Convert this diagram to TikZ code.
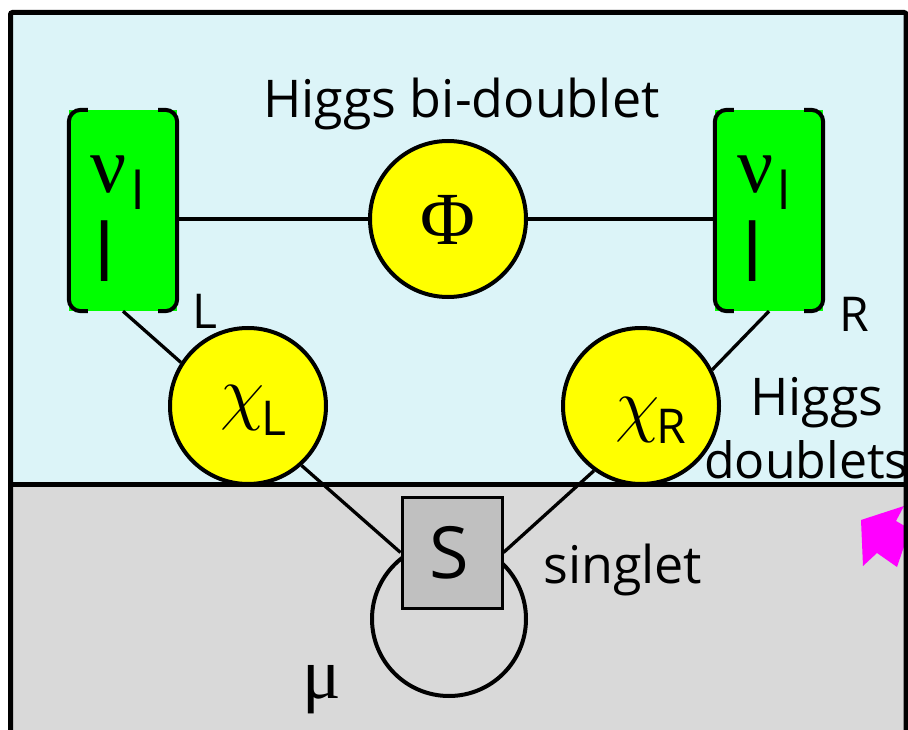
\RequirePackage{fix-cm}
\documentclass[tikz,border=0pt]{standalone}
\usepackage{fontspec}
\setmainfont{Open Sans}
\newfontfamily\greekfont{Liberation Serif}
\definecolor{skyfill}{RGB}{220,244,248}
\definecolor{floorfill}{RGB}{217,217,217}
\definecolor{singletfill}{RGB}{192,192,192}
\definecolor{leptongreen}{RGB}{0,255,0}
\definecolor{higgsyellow}{RGB}{255,255,0}
\definecolor{pointer}{RGB}{255,0,255}
\tikzset{
  wire/.style={line width=3.3pt},
  frameline/.style={line width=5pt},
  leptonbox/.style={rectangle, fill=leptongreen, minimum width=108pt, minimum height=201pt, inner sep=0pt},
  bracketline/.style={line width=4pt, rounded corners=12pt},
  higgsdisc/.style={circle, draw, line width=4pt, fill=higgsyellow, minimum size=156pt, inner sep=0pt},
  singletbox/.style={rectangle, draw, line width=3pt, fill=singletfill, minimum width=100pt, minimum height=111pt, inner sep=0pt},
  txt/.style={inner sep=0pt, anchor=base west},
}
\newcommand{\sz}[1]{\fontsize{#1}{#1}\selectfont}
\begin{document}
\begin{tikzpicture}[x=1pt,y=-1pt]
\useasboundingbox (0,0) rectangle (908,730);
% backgrounds
\fill[skyfill] (10,12) rectangle (906,484);
\fill[floorfill] (10,484) rectangle (906,730);
% magenta pointer at the right edge
\fill[pointer] (861,520) -- (904,506) -- (896,521) -- (910,529) -- (897,567) -- (877,553) -- (863,566) -- cycle;
% frame and divider
\draw[frameline, rounded corners=2pt] (10.5,730) -- (10.5,12.5) -- (906,12.5) -- (906,730);
\draw[frameline] (10,484) -- (906,484);

% lepton doublets
\node[leptonbox] (lb) at (123,210.5) {};
\node[leptonbox] (rb) at (769,210.5) {};
\foreach \b in {lb,rb}{
  \draw[bracketline] ([xshift=19pt]\b.north west) -- (\b.north west) -- (\b.south west) -- ([xshift=19pt]\b.south west);
  \draw[bracketline] ([xshift=-19pt]\b.north east) -- (\b.north east) -- (\b.south east) -- ([xshift=-19pt]\b.south east);
}
\node[txt] (lnu) at (90,193) {\greekfont\sz{80}ν};
\node[txt] (lnusub) at (131,210) {\sz{52}l};
\node[txt] (llep) at (94,282) {\sz{80}l};
\node[txt] (rnu) at (737,193) {\greekfont\sz{80}ν};
\node[txt] (rnusub) at (777,210) {\sz{52}l};
\node[txt] (rlep) at (742,282) {\sz{80}l};
\node[txt] (lL) at (192,328) {\sz{48}L};
\node[txt] (rR) at (839,331) {\sz{48}R};

% Higgs fields
\node[higgsdisc] (phi) at (448,219) {};
\node[inner sep=0pt] (philab) at (448,220) {\greekfont\sz{75}Φ};
\node[txt] (bidoub) at (263,118) {\sz{52}Higgs bi-doublet};

\node[higgsdisc] (chiL) at (248,406) {};
\node[higgsdisc] (chiR) at (641,406) {};
\node[txt] (chiLlab) at (220,416) {\sz{72}$\chi$};
\node[txt] (chiLsub) at (261,435) {\sz{48}L};
\node[txt] (chiRlab) at (615,428) {\sz{72}$\chi$};
\node[txt] (chiRsub) at (656,443) {\sz{48}R};
\node[txt] (doubA) at (750,415) {\sz{52}Higgs};
\node[txt] (doubB) at (704,478) {\sz{50}doublets};

% singlet with its self-coupling loop
\node[circle, draw, line width=4pt, minimum size=154pt, inner sep=0pt] (loop) at (449,619) {};
\node[singletbox] (S) at (452,552.5) {};
\node[inner sep=0pt] (Slab) at (449,553) {\sz{72}S};
\node[txt] (singlab) at (543,583) {\sz{52}singlet};
\node[txt] (mulab) at (302,698) {\greekfont\sz{72}μ};

% connectors
\draw[wire] (lb.east |- phi) -- (phi.west);
\draw[wire] (phi.east) -- (rb.west |- phi);
\draw[wire] (lb.south) -- (chiL.147);
\draw[wire] (rb.south) -- (chiR.27);
\draw[wire] (chiL.-48) -- (S.west);
\draw[wire] (chiR.-126) -- (S.east);
\end{tikzpicture}
\end{document}
